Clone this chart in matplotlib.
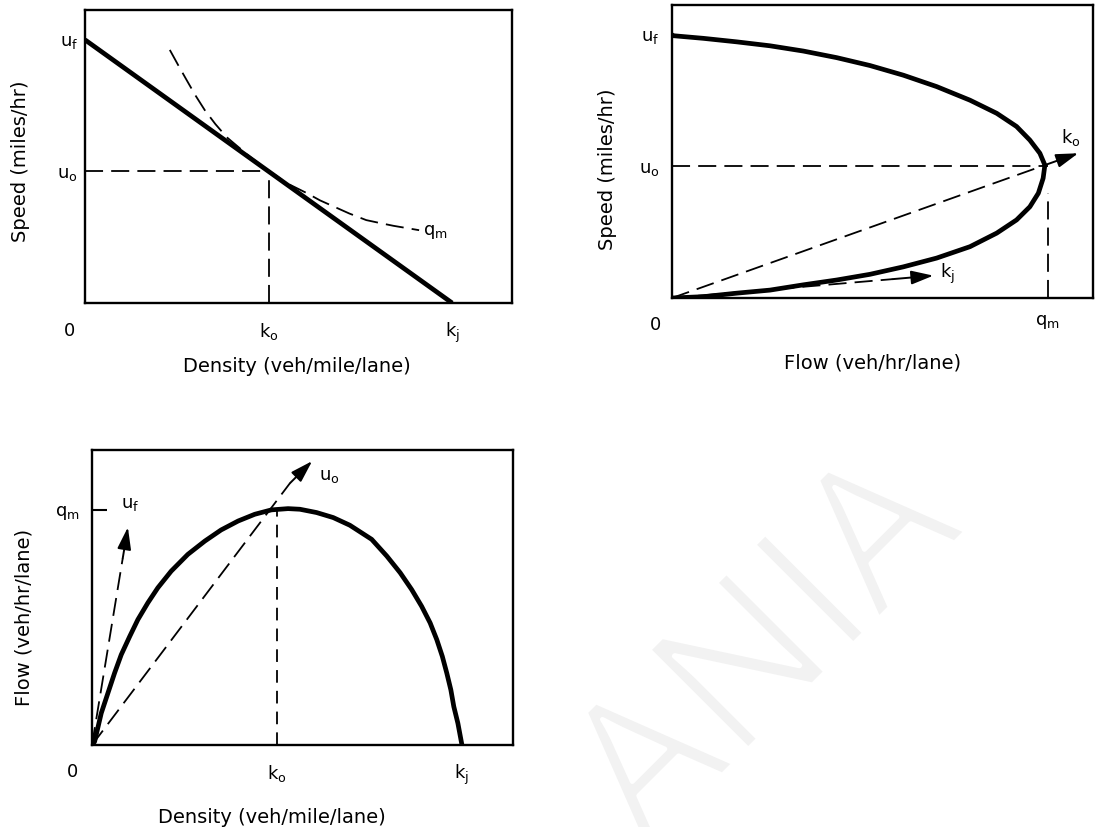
import matplotlib
matplotlib.use("Agg")
import matplotlib.pyplot as plt
import matplotlib.patheffects as pe

# ---------------- data (Greenshields diagrams) -------------
UF, UO = 60.0, 30.0          # free-flow speed, optimum speed
KJ, KO = 100.0, 50.0         # jam density, optimum density
QM = 1500.0                  # capacity

# panel 1 : speed vs density
p1_density = [0.0, 100.0]
p1_speed = [60.0, 0.0]
p1_qm_density = [23.1, 25.4, 27.7, 30.1, 32.6, 35.5, 38.6, 42.0, 45.0, 47.8, 50.5,
                 55.0, 60.3, 64.0, 68.0, 72.0, 76.6, 80.5, 84.0, 87.5, 91.0]
p1_qm_speed = [57.7, 54.2, 50.8, 47.3, 44.0, 40.8, 37.8, 35.4, 33.3, 31.5, 29.9,
               27.3, 25.1, 23.4, 21.9, 20.4, 18.9, 18.2, 17.6, 17.1, 16.6]

# panel 2 : speed vs flow
p2_flow = [0, 5, 125, 258, 391, 524, 657, 790, 923, 1056, 1189, 1296, 1375, 1428,
           1468, 1488, 1481, 1462, 1428, 1375, 1296, 1189, 1056, 923, 790, 657,
           524, 391, 258, 125, 0]
p2_speed = [60.0, 59.8, 59.2, 58.4, 57.5, 56.3, 54.8, 53.0, 50.8, 48.2, 45.1, 42.1,
            39.1, 36.0, 33.0, 30.3, 27.3, 23.9, 20.8, 17.8, 14.8, 11.7, 9.1, 7.1,
            5.4, 4.1, 3.0, 1.8, 1.1, 0.3, 0.0]
p2_ko_arrow = [(1488, 30.3), (1621, 33.0)]
p2_kj_line_end = (880, 4.3)
p2_kj_arrow = [(880, 4.3), (1043, 5.1)]

# panel 3 : flow vs density
p3_density = [0.0, 0.7, 2.5, 4.3, 6.1, 7.9, 10.2, 12.4, 15.1, 17.8, 21.4, 25.9, 30.5,
              34.9, 39.5, 44.0, 48.5, 53.0, 56.2, 60.7, 65.2, 69.7, 75.6, 79.7, 83.3,
              86.4, 89.1, 91.4, 93.2, 94.7, 95.9, 97.0, 97.8, 98.9, 100.0]
p3_flow = [0, 21, 203, 331, 459, 576, 693, 800, 907, 1003, 1109, 1216, 1301,
           1372, 1429, 1472, 1500, 1508, 1504, 1483, 1451, 1402, 1312, 1205, 1099,
           992, 885, 779, 672, 565, 459, 352, 245, 139, 0]
p3_uf_line_end = (8.3, 1190)
p3_uf_arrow = [(8.3, 1190), (9.7, 1389)]
p3_uo_line_end = (53.5, 1670)
p3_uo_arrow = [(53.5, 1670), (59.5, 1811)]

# ---------------- figure ----------------
W, H = 1096, 827
fig = plt.figure(figsize=(W / 100, H / 100), dpi=100)
plt.rcParams["font.family"] = ["DejaVu Sans"]
plt.rcParams["mathtext.default"] = "regular"

LBL = 14
SYM = 13
THICK = 3.4
DLW = 1.3
DASH = (10, 4.5)


def axes_px(l, t, r, b):
    return fig.add_axes([l / W, 1 - b / H, (r - l) / W, (b - t) / H])


def style(ax, xlim, ylim):
    ax.set_xlim(*xlim)
    ax.set_ylim(*ylim)
    for s in ax.spines.values():
        s.set_linewidth(1.7)
    ax.tick_params(length=0, labelsize=SYM)


def arrow(ax, p0, p1):
    ax.annotate("", xy=p1, xytext=p0,
                arrowprops=dict(arrowstyle="-|>,head_length=0.9,head_width=0.28",
                                color="black", lw=1.4, shrinkA=0, shrinkB=0,
                                mutation_scale=15))


def zero(ax, dx, dy):
    ax.annotate("0", xy=(0, 0), xycoords="axes fraction", xytext=(dx, dy),
                textcoords="offset points", ha="center", va="top", fontsize=SYM)


# ---- watermark (behind everything)
fig.text(0.703, 0.208, "ANIA", rotation=45, rotation_mode="anchor", ha="center",
         va="center", fontsize=142, color="#f2f2f2", family=["Open Sans", "DejaVu Sans"],
         fontweight="normal", zorder=-5,
         path_effects=[pe.Stroke(linewidth=3.5, foreground="white")])

# ---- panel 1
ax1 = axes_px(85, 10, 512, 303)
style(ax1, (0, 116.3), (0, 66.8))
ax1.plot(p1_density, p1_speed, color="black", lw=THICK, solid_capstyle="butt")
ax1.plot(p1_qm_density, p1_qm_speed, color="black", lw=DLW, dashes=DASH)
ax1.plot([0, KO], [UO, UO], color="black", lw=DLW, dashes=DASH)
ax1.plot([KO, KO], [0, UO], color="black", lw=DLW, dashes=DASH)
ax1.annotate(r"$q_m$", xy=(p1_qm_density[-1], p1_qm_speed[-1]), xytext=(3, -1),
             textcoords="offset points", ha="left", va="center", fontsize=SYM)
ax1.set_xticks([KO, KJ], [r"$k_o$", r"$k_j$"])
ax1.set_yticks([UO, UF], [r"$u_o$", r"$u_f$"])
ax1.tick_params(axis="x", pad=13)
ax1.tick_params(axis="y", pad=5)
zero(ax1, -11, -14)
ax1.set_xlabel("Density (veh/mile/lane)", fontsize=LBL)
ax1.xaxis.set_label_coords(0.497, -0.184)
ax1.xaxis.label.set_va("top")
ax1.set_ylabel("Speed (miles/hr)", fontsize=LBL)
ax1.yaxis.set_label_coords(-0.129, 0.485)

# ---- panel 2
ax2 = axes_px(672, 5, 1093, 298)
style(ax2, (0, 1680), (0, 66.8))
ax2.plot(p2_flow, p2_speed, color="black", lw=THICK)
ax2.plot([0, QM], [UO, UO], color="black", lw=DLW, dashes=DASH)
ax2.plot([QM, QM], [0, 24], color="black", lw=DLW, dashes=DASH)
ax2.plot([0, p2_ko_arrow[0][0]], [0, p2_ko_arrow[0][1]], color="black", lw=DLW, dashes=DASH)
arrow(ax2, *p2_ko_arrow)
ax2.plot([0, p2_kj_line_end[0]], [0, p2_kj_line_end[1]], color="black", lw=DLW, dashes=DASH)
arrow(ax2, *p2_kj_arrow)
ax2.annotate(r"$k_o$", xy=p2_ko_arrow[1], xytext=(-5, 4), textcoords="offset points",
             ha="center", va="bottom", fontsize=SYM)
ax2.annotate(r"$k_j$", xy=p2_kj_arrow[1], xytext=(5, 1), textcoords="offset points",
             ha="left", va="center", fontsize=SYM)
ax2.set_xticks([QM], [r"$q_m$"])
ax2.set_yticks([UO, UF], [r"$u_o$", r"$u_f$"])
ax2.tick_params(axis="x", pad=11)
ax2.tick_params(axis="y", pad=9)
zero(ax2, -12, -13)
ax2.set_xlabel("Flow (veh/hr/lane)", fontsize=LBL)
ax2.xaxis.set_label_coords(0.477, -0.188)
ax2.xaxis.label.set_va("top")
ax2.set_ylabel("Speed (miles/hr)", fontsize=LBL)
ax2.yaxis.set_label_coords(-0.131, 0.44)

# ---- panel 3
ax3 = axes_px(92, 450, 513, 745)
style(ax3, (0, 113.8), (0, 1882))
ax3.plot(p3_density, p3_flow, color="black", lw=THICK)
ax3.plot([KO, KO], [0, QM], color="black", lw=DLW, dashes=(7, 4.5))
ax3.plot([0, p3_uf_line_end[0]], [0, p3_uf_line_end[1]], color="black", lw=DLW, dashes=DASH)
arrow(ax3, *p3_uf_arrow)
ax3.plot([0, p3_uo_line_end[0]], [0, p3_uo_line_end[1]], color="black", lw=DLW, dashes=DASH)
arrow(ax3, *p3_uo_arrow)
ax3.annotate(r"$u_f$", xy=p3_uf_arrow[1], xytext=(-5, 10), textcoords="offset points",
             ha="left", va="bottom", fontsize=SYM)
ax3.annotate(r"$u_o$", xy=p3_uo_arrow[1], xytext=(5, -4), textcoords="offset points",
             ha="left", va="top", fontsize=SYM)
ax3.set_xticks([KO, KJ], [r"$k_o$", r"$k_j$"])
ax3.set_yticks([QM], [r"$q_m$"])
ax3.tick_params(axis="x", pad=13)
ax3.tick_params(axis="y", direction="in", length=11, width=1.5, pad=9)
zero(ax3, -14, -13)
ax3.set_xlabel("Density (veh/mile/lane)", fontsize=LBL)
ax3.xaxis.set_label_coords(0.428, -0.214)
ax3.xaxis.label.set_va("top")
ax3.set_ylabel("Flow (veh/hr/lane)", fontsize=LBL)
ax3.yaxis.set_label_coords(-0.14, 0.434)

fig.savefig("out.png", dpi=100)
